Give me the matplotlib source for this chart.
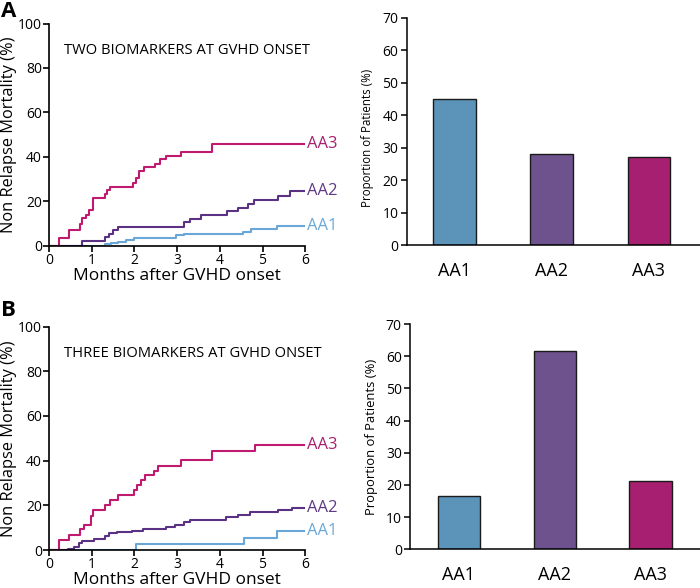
import matplotlib
matplotlib.use('Agg')
import matplotlib.pyplot as plt

plt.rcParams['font.family'] = ['Open Sans', 'DejaVu Sans']

# panel A, cumulative NRM (step curves)
a_aa3_t = [0, 0.23, 0.46, 0.72, 0.78, 0.86, 0.94, 1.02, 1.30, 1.36, 1.42, 1.97, 2.03,
           2.10, 2.22, 2.48, 2.60, 2.75, 3.10, 3.81, 6.0]
a_aa3_v = [0, 3.7, 7.3, 10, 12.3, 13.8, 16.3, 21.3, 23.5, 25, 26.5, 28.3, 30.5,
           33.5, 35.5, 37, 39, 40.5, 42, 45.7, 45.7]
a_aa2_t = [0, 0.78, 1.32, 1.40, 1.50, 1.62, 3.16, 3.30, 3.57, 4.16, 4.43, 4.66, 4.80,
           5.37, 5.65, 6.0]
a_aa2_v = [0, 2, 3.8, 5.5, 7, 8.6, 10.5, 12, 13.8, 15.6, 17.1, 19, 20.8, 22.5, 24.5, 24.5]
a_aa1_t = [0, 1.30, 1.45, 1.62, 1.80, 1.98, 2.97, 3.16, 4.55, 4.74, 5.33, 6.0]
a_aa1_v = [0, 0.8, 1.3, 1.8, 2.5, 3.4, 4.7, 5.5, 6.3, 7.7, 8.7, 8.7]

# panel B
b_aa3_t = [0, 0.23, 0.48, 0.72, 0.82, 0.98, 1.02, 1.30, 1.42, 1.62, 1.98, 2.05, 2.15,
           2.25, 2.45, 2.55, 3.10, 3.82, 4.82, 6.0]
b_aa3_v = [0, 4.7, 6.7, 9.2, 11.3, 15, 18, 20, 22.5, 24.5, 27, 29, 31.3, 33.5, 35.5,
           37.8, 40.2, 44.5, 46.9, 46.9]
b_aa2_t = [0, 0.45, 0.58, 0.70, 0.78, 1.05, 1.32, 1.40, 1.60, 1.95, 2.20, 2.73, 2.94,
           3.16, 3.30, 4.14, 4.43, 4.70, 5.37, 5.68, 6.0]
b_aa2_v = [0, 0.5, 1.3, 3, 4, 4.8, 6.3, 7.5, 8.1, 8.7, 9.3, 10.4, 11.2, 12.7, 13.6,
           14.6, 15.7, 16.9, 17.9, 18.8, 18.8]
b_aa1_t = [0, 2.03, 4.57, 5.33, 6.0]
b_aa1_v = [0, 2.8, 5.6, 8.6, 8.6]

groups = ['AA1', 'AA2', 'AA3']
a_prop = [45.1, 27.9, 27.0]
b_prop = [16.7, 61.7, 21.3]

line_cols = ['#68a7d7', '#5b3184', '#c01a70']
text_cols = ['#6aa8d8', '#5e3a86', '#a8206e']
bar_cols = ['#5b93b9', '#6e528e', '#a61f70']

fig = plt.figure(figsize=(7, 5.88), dpi=100)


def km_panel(rect, curves, title):
    ax = fig.add_axes(rect)
    for (t, v), c, tc, g in zip(curves, line_cols, text_cols, groups):
        ax.step(t, v, where='post', color=c, lw=1.5)
        ax.text(6.05, v[-1], g, color=tc, fontsize=12, ha='left', va='center')
    ax.set_xlim(0, 6)
    ax.set_ylim(0, 100)
    ax.set_xticks(range(7))
    ax.set_yticks(range(0, 101, 20))
    ax.spines[['top', 'right']].set_visible(False)
    for s in ['left', 'bottom']:
        ax.spines[s].set_linewidth(1.2)
    ax.tick_params(direction='out', length=4, width=1.2, labelsize=10, pad=1)
    ax.set_xlabel('Months after GVHD onset', fontsize=12.5, labelpad=0)
    ax.set_ylabel('Non Relapse Mortality (%)', fontsize=11.8, labelpad=1)
    ax.text(0.35, 88, title, fontsize=10.6, va='center', ha='left')
    return ax


def bar_panel(rect, vals, xl, lab_size, lab_y):
    ax = fig.add_axes(rect)
    ax.bar(range(3), vals, width=0.44, color=bar_cols, edgecolor='#1a1a1a', lw=1.0)
    ax.set_xlim(*xl)
    ax.set_ylim(0, 70)
    ax.set_yticks(range(0, 71, 10))
    ax.set_xticks(range(3))
    ax.set_xticklabels(groups)
    ax.spines[['top', 'right']].set_visible(False)
    for s in ['left', 'bottom']:
        ax.spines[s].set_linewidth(1.1)
    ax.tick_params(axis='y', direction='out', length=4, width=1.1, labelsize=10, pad=2)
    ax.tick_params(axis='x', length=0, labelsize=13, pad=12)
    ax.set_ylabel('Proportion of Patients (%)', fontsize=lab_size)
    ax.yaxis.set_label_coords(-0.11, lab_y)
    return ax


km_panel([0.070, 0.582, 0.366, 0.378],
         [(a_aa1_t, a_aa1_v), (a_aa2_t, a_aa2_v), (a_aa3_t, a_aa3_v)],
         'TWO BIOMARKERS AT GVHD ONSET')
km_panel([0.070, 0.0646, 0.366, 0.380],
         [(b_aa1_t, b_aa1_v), (b_aa2_t, b_aa2_v), (b_aa3_t, b_aa3_v)],
         'THREE BIOMARKERS AT GVHD ONSET')
bar_panel([0.581, 0.583, 0.419, 0.387], a_prop, (-0.495, 2.526), 8.3, 0.47)
bar_panel([0.586, 0.0658, 0.414, 0.383], b_prop, (-0.505, 2.515), 9.4, 0.5)

fig.text(0.002, 0.998, 'A', fontsize=16, fontweight='bold', ha='left', va='top')
fig.text(0.002, 0.49, 'B', fontsize=16, fontweight='bold', ha='left', va='top')

plt.savefig('out.png', dpi=100)
plt.close()
